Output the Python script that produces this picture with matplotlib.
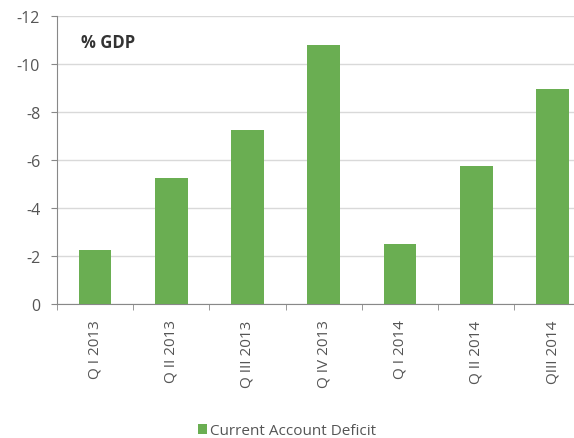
import matplotlib
matplotlib.use('Agg')
import matplotlib.pyplot as plt
import numpy as np

# quarterly current account deficit, % of GDP
quarters = ['Q I 2013', 'Q II 2013', 'Q III 2013', 'Q IV 2013',
            'Q I 2014', 'Q II 2014', 'QIII 2014']
deficit = [-2.25, -5.25, -7.25, -10.8, -2.5, -5.75, -8.95]

plt.rcParams['font.family'] = ['Open Sans', 'DejaVu Sans']

fig = plt.figure(figsize=(5.74, 4.39), dpi=100)
ax = fig.add_axes([0.099, 0.305, 0.930, 0.656])

color = '#6aae52'
x = np.arange(len(quarters))
ax.bar(x, deficit, width=0.43, color=color, label='Current Account Deficit', zorder=3)

ax.set_ylim(0, -12)
ax.set_yticks(np.arange(0, -13, -2))
ax.set_yticklabels([str(v) for v in range(0, -13, -2)])
ax.set_xlim(-0.5, len(quarters) - 0.5)
ax.set_xticks(x)
ax.set_xticklabels(quarters, rotation=90)
ax.set_xticks(np.arange(-0.5, len(quarters), 1), minor=True)
ax.tick_params(axis='x', which='major', length=0, pad=11, labelsize=11, labelcolor='#555555')
ax.tick_params(axis='x', which='minor', length=4, color='#888888', direction='out')
ax.tick_params(axis='y', length=4, color='#888888', labelsize=11.5, labelcolor='#555555', pad=8)

ax.grid(axis='y', color='#d9d9d9', linewidth=1, zorder=0)
for side in ['top', 'right']:
    ax.spines[side].set_visible(False)
for side in ['left', 'bottom']:
    ax.spines[side].set_color('#888888')

ax.text(0.045, 0.91, '% GDP', transform=ax.transAxes, fontsize=12,
        fontweight='bold', color='#333333', va='center')

fig.legend(loc='center', bbox_to_anchor=(0.5, 0.017), frameon=False, fontsize=11,
           handlelength=0.6, handleheight=0.6, handletextpad=0.2,
           labelcolor='#555555', borderpad=0)

fig.savefig('out.png', dpi=100)
